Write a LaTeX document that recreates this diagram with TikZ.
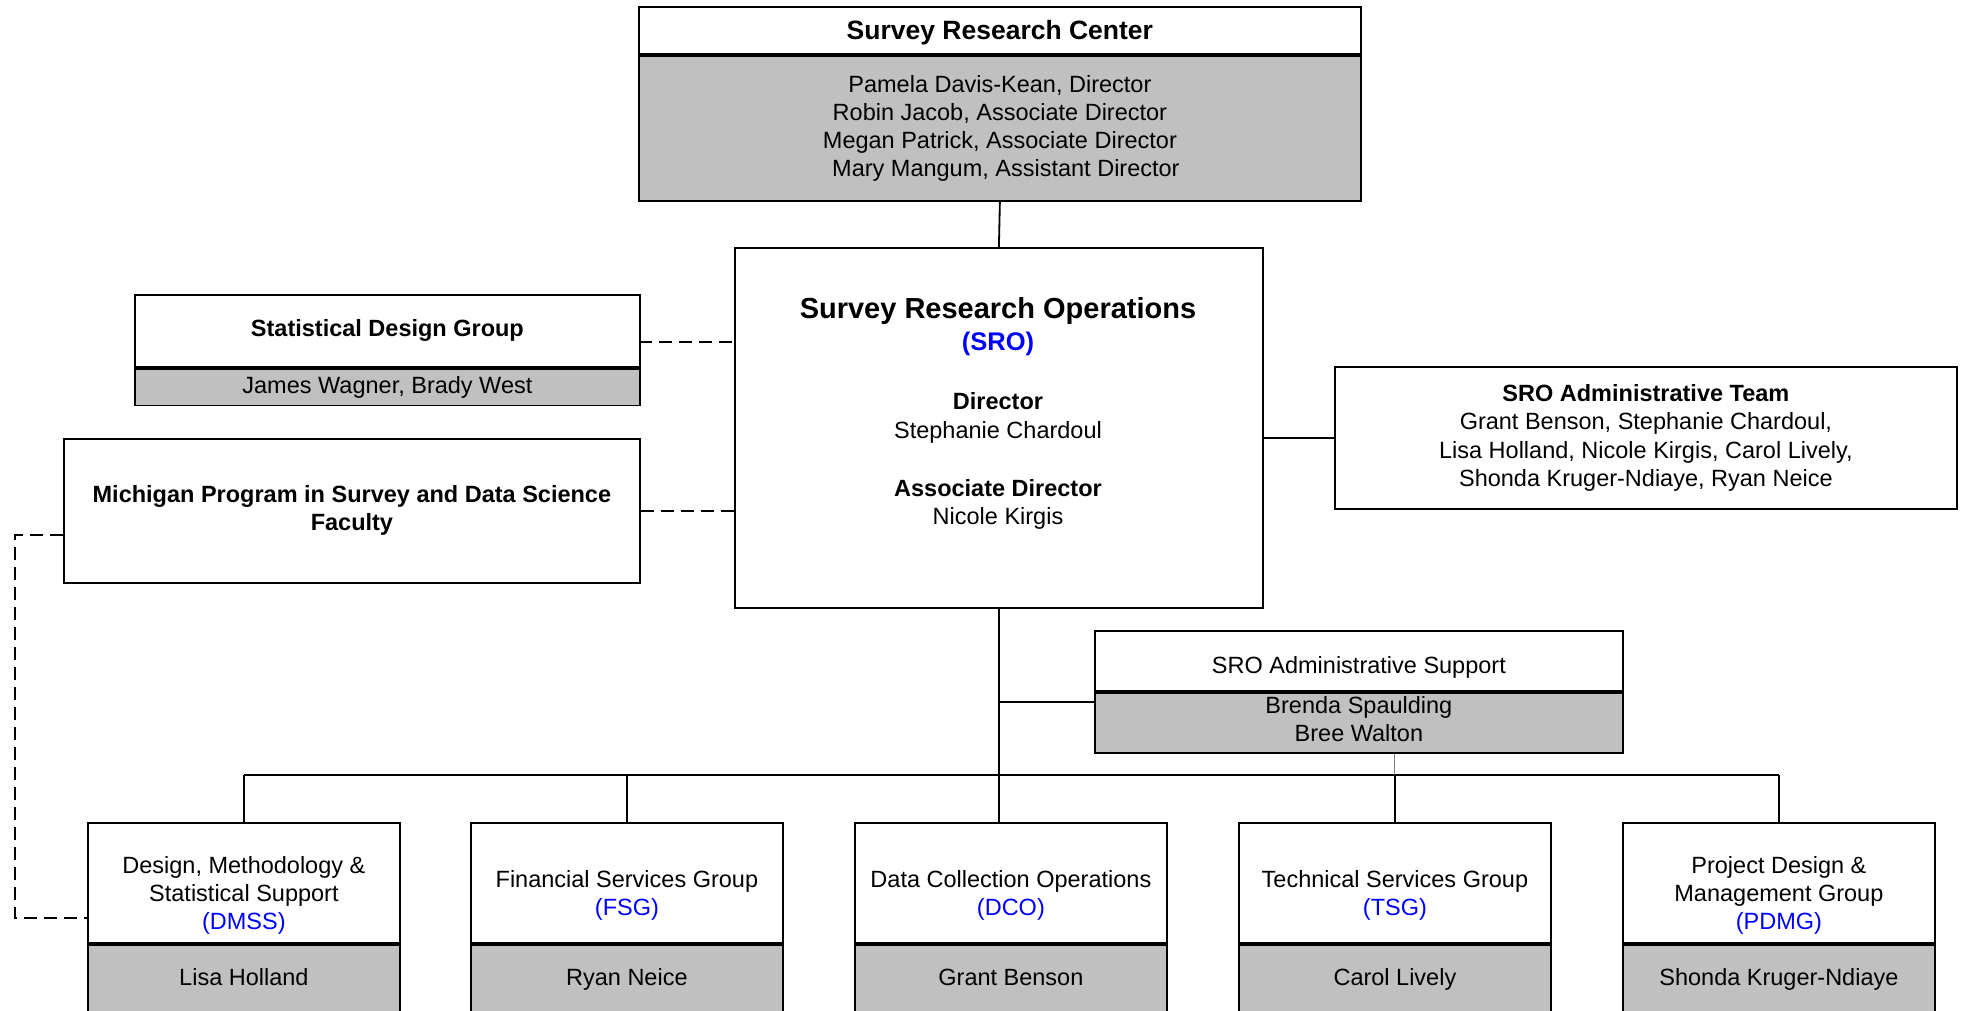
\documentclass[tikz,border=0pt]{standalone}
\usepackage{fontspec}
\setmainfont{Liberation Sans}

\definecolor{boxgray}{RGB}{192,192,192}
\definecolor{abbrblue}{RGB}{0,0,255}
\newcommand{\orgsize}{\fontsize{23.5}{28}\selectfont}

\tikzset{
  box/.style={draw, line width=1.8pt, fill=white, inner sep=0pt, anchor=north west},
  graybox/.style={box, fill=boxgray},
  group/.style={box, minimum width=312pt, minimum height=120pt},
  groupbody/.style={graybox, minimum width=312pt, minimum height=70pt, text height=17pt, text depth=5pt},
  link/.style={line width=1.8pt},
  dashlink/.style={link, dash pattern=on 13pt off 7pt}
}

\begin{document}
\begin{tikzpicture}[x=1pt, y=1pt, font=\orgsize, every node/.style={align=center}]
    \useasboundingbox (0,0) rectangle (1965,-1011);
    \clip (0,0) rectangle (1965,-1011);

    % Survey Research Center
    \node [box, minimum width=722pt, minimum height=47pt, text depth=0pt, font=\bfseries\fontsize{26.5}{31}\selectfont] (src) at (638,-6) {Survey Research Center};
    \node [graybox, minimum width=722pt, minimum height=145pt] (srcbody) at (src.south west) {Pamela Davis-Kean, Director\\Robin Jacob, Associate Director\\Megan Patrick, Associate Director\\\hspace*{12pt}Mary Mangum, Assistant Director};

    % Survey Research Operations
    \node [box, minimum width=528pt, minimum height=360pt] (sro) at (734,-247) {};
    \node [anchor=base, font=\bfseries\fontsize{29}{34}\selectfont] (sroname) at (998,-318) {Survey Research Operations};
    \node [anchor=base, font=\bfseries\fontsize{25.5}{30}\selectfont, text=abbrblue] (sroabbr) at (998,-350) {(SRO)};
    \node [anchor=base, font=\orgsize\bfseries] (srodirtitle) at (998,-409) {Director};
    \node [anchor=base] (srodir) at (998,-438) {Stephanie Chardoul};
    \node [anchor=base, font=\orgsize\bfseries] (sroassoctitle) at (998,-496) {Associate Director};
    \node [anchor=base] (sroassoc) at (998,-524) {Nicole Kirgis};

    % Left side groups
    \node [box, minimum width=505pt, minimum height=72pt, font=\orgsize\bfseries] (sdg) at (134,-294) {Statistical Design Group};
    \node [graybox, minimum width=505pt, minimum height=36.7pt] (sdgbody) at (sdg.south west) {James Wagner, Brady West};
    \node [box, minimum width=576pt, minimum height=144pt, font=\orgsize\bfseries] (mpsds) at (63,-438) {Michigan Program in Survey and Data Science\\Faculty};

    % Administrative team
    \node [box, minimum width=622pt, minimum height=142pt, font=\fontsize{23.5}{28.4}\selectfont] (team) at (1334,-366) {\textbf{SRO Administrative Team}\\Grant Benson, Stephanie Chardoul,\\Lisa Holland, Nicole Kirgis, Carol Lively,\\Shonda Kruger-Ndiaye, Ryan Neice};

    % Administrative support
    \node [box, minimum width=528pt, minimum height=60pt] (supp) at (1094,-630) {};
    \node [yshift=-7pt] (supptitle) at (supp) {SRO Administrative Support};
    \node [graybox, minimum width=528pt, minimum height=60pt, text depth=8pt] (suppbody) at (supp.south west) {Brenda Spaulding\\Bree Walton};

    % Bottom row
    \node [group] (dmss) at (87,-822) {};
    \node [yshift=-13pt] (dmsstext) at (dmss) {Design, Methodology \&\\Statistical Support\\\textcolor{abbrblue}{(DMSS)}};
    \node [groupbody] (dmssbody) at (dmss.south west) {Lisa Holland};

    \node [group] (fsg) at (470,-822) {};
    \node [yshift=-13pt] (fsgtext) at (fsg) {Financial Services Group\\\textcolor{abbrblue}{(FSG)}};
    \node [groupbody] (fsgbody) at (fsg.south west) {Ryan Neice};

    \node [group] (dco) at (854,-822) {};
    \node [yshift=-13pt] (dcotext) at (dco) {Data Collection Operations\\\textcolor{abbrblue}{(DCO)}};
    \node [groupbody] (dcobody) at (dco.south west) {Grant Benson};

    \node [group] (tsg) at (1238,-822) {};
    \node [yshift=-13pt] (tsgtext) at (tsg) {Technical Services Group\\\textcolor{abbrblue}{(TSG)}};
    \node [groupbody] (tsgbody) at (tsg.south west) {Carol Lively};

    \node [group] (pdmg) at (1622,-822) {};
    \node [yshift=-13pt] (pdmgtext) at (pdmg) {Project Design \&\\Management Group\\\textcolor{abbrblue}{(PDMG)}};
    \node [groupbody] (pdmgbody) at (pdmg.south west) {Shonda Kruger-Ndiaye};

    % Solid links
    \draw [link] (srcbody.south) -- (sro.north);
    \draw [link] (sro.south) -- (sro.south |- dco.north);
    \coordinate (suppjoin) at (1094,-702);
    \draw [link] (sro.south |- suppjoin) -- (suppjoin);
    \draw [link] (team.west) -- (team.west -| sro.east);

    % Bus to the groups
    \coordinate (bus) at (0,-775);
    \draw [link] (dmss.north |- bus) -- (pdmg.north |- bus);
    \draw [link] (dmss.north |- bus) -- (dmss.north);
    \draw [link] (fsg.north |- bus) -- (fsg.north);
    \draw [link] (tsg.north |- bus) -- (tsg.north);
    \draw [link] (pdmg.north |- bus) -- (pdmg.north);
    \draw [gray, line width=1pt] (tsg.north |- suppbody.south) -- (tsg.north |- bus);

    % Dashed links
    \coordinate (sdglink) at (639,-342);
    \draw [dashlink] (sdglink) -- (sdglink -| sro.west);
    \draw [dashlink] (mpsds.east) -- (mpsds.east -| sro.west);
    \coordinate (looptop) at (15,-535);
    \coordinate (loopbot) at (15,-918);
    \draw [dashlink] (looptop -| mpsds.west) -- (looptop) -- (loopbot) -- (loopbot -| dmss.west);

\end{tikzpicture}
\end{document}
